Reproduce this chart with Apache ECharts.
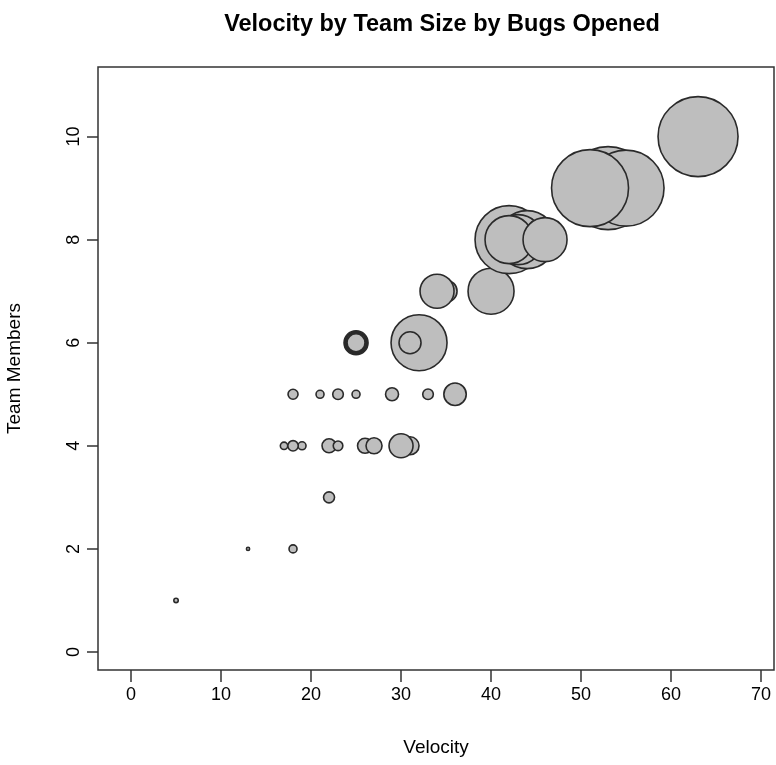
<!DOCTYPE html>
<html>
<head>
<meta charset="utf-8">
<script src="https://cdn.jsdelivr.net/npm/echarts@6/dist/echarts.min.js"></script>
<style>
html, body { margin: 0; padding: 0; background: #fff; }
#main { width: 776px; height: 765px; }
</style>
</head>
<body>
<div id="main"></div>
<script>
// data, in drawing order (later points sit on top)
var velocity    = [5, 13, 18, 22, 17, 19, 18, 22, 23, 26, 27, 31, 30,
                   18, 21, 23, 25, 29, 33, 36,
                   25, 25, 25, 25, 25, 32, 31,
                   35, 34, 40,
                   42, 44, 43, 42, 46,
                   53, 55, 51,
                   63];
var teamMembers = [1, 2, 2, 3, 4, 4, 4, 4, 4, 4, 4, 4, 4,
                   5, 5, 5, 5, 5, 5, 5,
                   6, 6, 6, 6, 6, 6, 6,
                   7, 7, 7,
                   8, 8, 8, 8, 8,
                   9, 9, 9,
                   10];
var bugsOpened  = [2.2, 1.6, 4, 5.5, 3.7, 4, 5.2, 7, 4.8, 7.5, 8, 9, 12,
                   5, 4, 5.3, 4, 6.5, 5.3, 11.2,
                   12, 11.3, 10.6, 9.8, 9, 28, 11,
                   11, 17, 23,
                   34, 29, 25, 24, 22,
                   41.5, 38, 38.5,
                   40];
var xTicks = [0, 10, 20, 30, 40, 50, 60, 70];
var yTicks = [0, 2, 4, 6, 8, 10];

var points = [];
for (var i = 0; i < velocity.length; i++) {
	points.push([velocity[i], teamMembers[i], bugsOpened[i]]);
}

var chart = echarts.init(document.getElementById('main'));

var fam = 'Liberation Sans, Arial, sans-serif';
var nameStyle = { color: '#000', fontFamily: fam, fontSize: 19 };

var option = {
	animation: false,
	title: {
		text: 'Velocity by Team Size by Bugs Opened',
		left: 437,
		textAlign: 'center',
		top: 8,
		textStyle: { color: '#000', fontFamily: fam, fontSize: 23.5, fontWeight: 'bold' }
	},
	grid: {
		left: 98, right: 2, top: 67, bottom: 95,
		outerBoundsMode: 'none',
		containLabel: false,
		show: true,
		borderColor: '#333',
		borderWidth: 1.5,
		backgroundColor: '#fff'
	},
	xAxis: {
		type: 'value',
		min: -3.67,
		max: 71.44,
		name: 'Velocity',
		nameLocation: 'middle',
		nameGap: 68,
		nameTextStyle: nameStyle,
		axisLine: { show: false, onZero: false },
		splitLine: { show: false },
		axisTick: { show: true, length: 12, customValues: xTicks, lineStyle: { color: '#333', width: 1.5 } },
		axisLabel: { customValues: xTicks, margin: 16, color: '#000', fontFamily: fam, fontSize: 18 }
	},
	yAxis: {
		type: 'value',
		min: -0.35,
		max: 11.35,
		name: 'Team Members',
		nameLocation: 'middle',
		nameGap: 74,
		nameRotate: 90,
		nameTextStyle: nameStyle,
		axisLine: { show: false, onZero: false },
		splitLine: { show: false },
		axisTick: { show: true, length: 11, customValues: yTicks, lineStyle: { color: '#333', width: 1.5 } },
		axisLabel: { customValues: yTicks, rotate: 90, margin: 15, color: '#000', fontFamily: fam, fontSize: 18 }
	},
	series: [{
		type: 'scatter',
		data: points,
		symbol: 'circle',
		symbolSize: function (d) { return d[2] * 2; },
		itemStyle: { color: '#bebebe', borderColor: '#2a2a2a', borderWidth: 1.6, opacity: 1 },
		emphasis: { disabled: true }
	}]
};

chart.setOption(option);
</script>
</body>
</html>
